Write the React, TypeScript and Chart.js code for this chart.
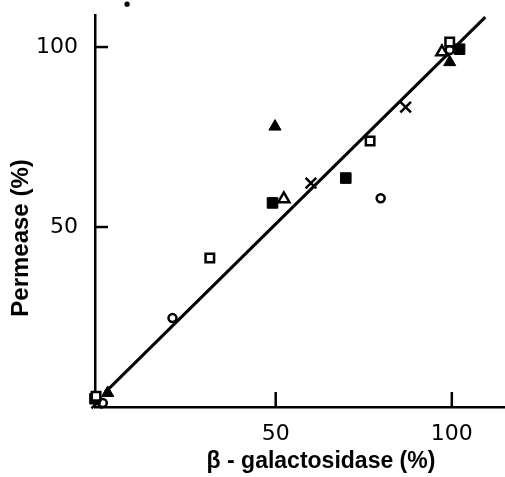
import React, { useEffect, useRef } from "react";
import { Chart, registerables } from "chart.js";

Chart.register(...registerables);

// ---- data ----
const xTickValues = [50, 100];
const yTickValues = [50, 100];
const xTitle = "β - galactosidase (%)";
const yTitle = "Permease (%)";

const openSquareX = [-1.0, 31.3, 76.8, 99.4];
const openSquareY = [3.0, 41.4, 73.9, 101.4];

const filledSquareX = [-1.3, 49.1, 69.9, 102.2];
const filledSquareY = [2.3, 56.7, 63.6, 99.4];

const openCircleX = [0.9, 20.7, 79.8, 99.4];
const openCircleY = [1.1, 24.7, 58.0, 99.2];

const filledTriangleX = [2.3, 49.8, 99.4];
const filledTriangleY = [3.9, 77.9, 95.8];

const openTriangleX = [52.3, 97.2];
const openTriangleY = [57.8, 98.6];

const crossX = [-0.8, 60.0, 86.9];
const crossY = [1.1, 62.2, 83.3];

const strayDotX = [7.8];
const strayDotY = [111.9];

const fitLineX = [1.5, 109.5];
const fitLineY = [4.0, 108.3];

const toPoints = (xs: number[], ys: number[]) => xs.map((x, i) => ({ x, y: ys[i] }));

const axisDecor = {
  id: "axisDecor",
  afterDraw(chart: any) {
    const { ctx, chartArea } = chart;
    const xs = chart.scales.x;
    const ys = chart.scales.y;
    ctx.save();
    ctx.strokeStyle = "#000";
    ctx.lineWidth = 2.5;
    xTickValues.forEach((v) => {
      const px = xs.getPixelForValue(v);
      ctx.beginPath();
      ctx.moveTo(px, chartArea.bottom);
      ctx.lineTo(px, chartArea.bottom - 15);
      ctx.stroke();
    });
    yTickValues.forEach((v) => {
      const py = ys.getPixelForValue(v);
      ctx.beginPath();
      ctx.moveTo(chartArea.left, py);
      ctx.lineTo(chartArea.left + 13, py);
      ctx.stroke();
    });
    // stray dot lying above the plotted range (outside the chart area)
    ctx.fillStyle = "#000";
    strayDotX.forEach((v, i) => {
      ctx.beginPath();
      ctx.arc(xs.getPixelForValue(v), ys.getPixelForValue(strayDotY[i]), 2.6, 0, Math.PI * 2);
      ctx.fill();
    });
    ctx.textAlign = "center";
    ctx.textBaseline = "alphabetic";
    ctx.font = 'bold 23px "Liberation Sans"';
    ctx.fillText(xTitle, chartArea.left + 226, chartArea.bottom + 61);
    ctx.translate(chartArea.left - 67, chartArea.top + 223);
    ctx.rotate(-Math.PI / 2);
    ctx.font = 'bold 24px "Liberation Sans"';
    ctx.fillText(yTitle, 0, 0);
    ctx.restore();
  },
};

export default function App() {
  const ref = useRef<HTMLCanvasElement | null>(null);
  useEffect(() => {
    if (!ref.current) return;
    const markerBase = { showLine: false, clip: false as any };
    const chart = new Chart(ref.current, {
      type: "scatter",
      data: {
        datasets: [
          {
            ...markerBase,
            label: "open square",
            data: toPoints(openSquareX, openSquareY),
            pointStyle: "rect",
            pointRadius: 6,
            backgroundColor: "#fff",
            borderColor: "#000",
            borderWidth: 2.5,
          },
          {
            ...markerBase,
            label: "filled square",
            data: toPoints(filledSquareX, filledSquareY),
            pointStyle: "rect",
            pointRadius: 7.5,
            backgroundColor: "#000",
            borderColor: "#000",
            borderWidth: 1,
          },
          {
            ...markerBase,
            label: "open circle",
            data: toPoints(openCircleX, openCircleY),
            pointStyle: "circle",
            pointRadius: 4,
            backgroundColor: "#fff",
            borderColor: "#000",
            borderWidth: 2.5,
          },
          {
            ...markerBase,
            label: "filled triangle",
            data: toPoints(filledTriangleX, filledTriangleY),
            pointStyle: "triangle",
            pointRadius: 7,
            backgroundColor: "#000",
            borderColor: "#000",
            borderWidth: 1,
          },
          {
            ...markerBase,
            label: "open triangle",
            data: toPoints(openTriangleX, openTriangleY),
            pointStyle: "triangle",
            pointRadius: 6.5,
            backgroundColor: "#fff",
            borderColor: "#000",
            borderWidth: 2.5,
          },
          {
            ...markerBase,
            label: "cross",
            data: toPoints(crossX, crossY),
            pointStyle: "crossRot",
            pointRadius: 7.5,
            backgroundColor: "#000",
            borderColor: "#000",
            borderWidth: 2.5,
          },
          {
            label: "fit",
            data: toPoints(fitLineX, fitLineY),
            showLine: true,
            pointRadius: 0,
            borderColor: "#000",
            borderWidth: 3,
            clip: false as any,
          },
        ],
      },
      options: {
        responsive: false,
        animation: false,
        devicePixelRatio: 1,
        layout: { autoPadding: false, padding: { left: 0, top: 15, right: 0, bottom: 0 } },
        plugins: {
          legend: { display: false },
          tooltip: { enabled: false },
          title: { display: false },
        },
        scales: {
          x: {
            type: "linear",
            min: -1.3,
            max: 115.1,
            grid: { display: false, drawTicks: false },
            border: { display: true, color: "#000", width: 2.5 },
            afterBuildTicks: (s: any) => {
              s.ticks = xTickValues.map((v) => ({ value: v }));
            },
            afterFit: (s: any) => {
              s.height = 70;
              s.paddingLeft = 0;
              s.paddingRight = 0;
            },
            ticks: {
              color: "#000",
              padding: 14,
              maxRotation: 0,
              font: { family: "DejaVu Sans", size: 22 },
              callback: (v: any) => String(v),
            },
          },
          y: {
            type: "linear",
            min: 0,
            max: 108.9,
            grid: { display: false, drawTicks: false },
            border: { display: true, color: "#000", width: 2.5 },
            afterBuildTicks: (s: any) => {
              s.ticks = yTickValues.map((v) => ({ value: v }));
            },
            afterFit: (s: any) => {
              s.width = 95;
              s.paddingTop = 0;
              s.paddingBottom = 0;
            },
            ticks: {
              color: "#000",
              padding: 17,
              font: { family: "DejaVu Sans", size: 22 },
              callback: (v: any) => String(v),
            },
          },
        },
      },
      plugins: [axisDecor],
    });
    return () => chart.destroy();
  }, []);
  return (
    <div style={{ position: "fixed", left: 0, top: 0, width: 505, height: 477, background: "#fff" }}>
      <canvas ref={ref} width={505} height={477} />
    </div>
  );
}
